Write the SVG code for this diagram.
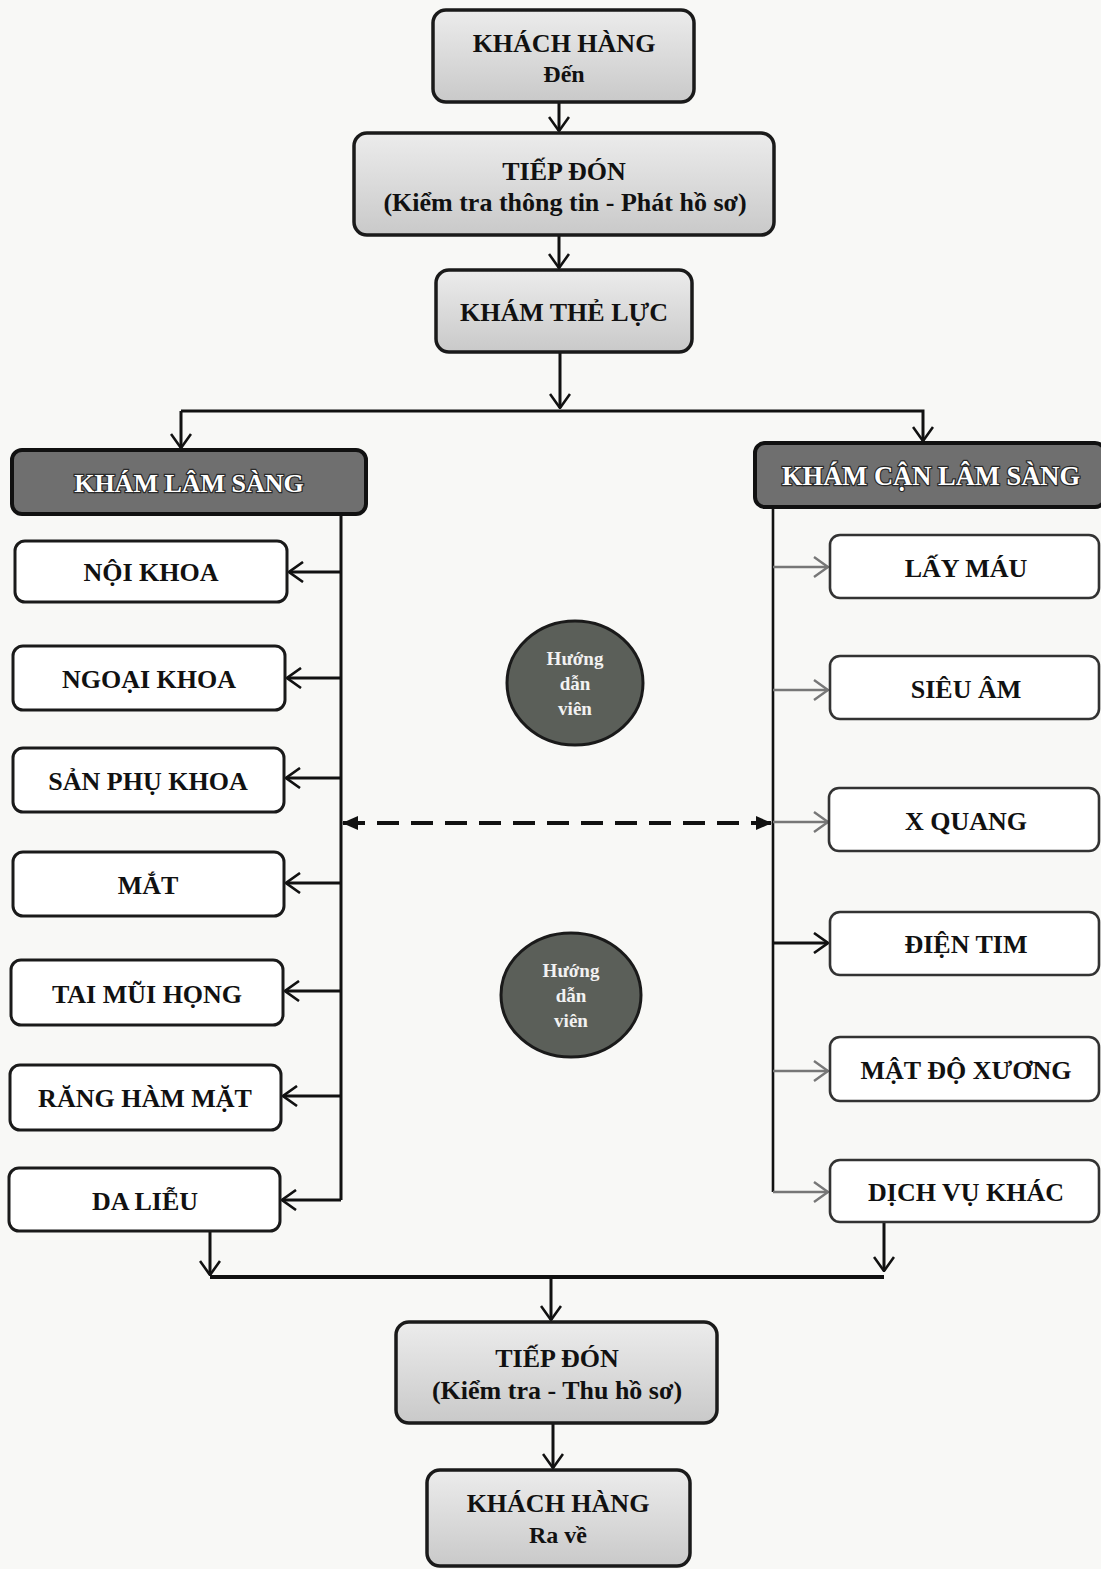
<svg xmlns="http://www.w3.org/2000/svg" width="1101" height="1569" viewBox="0 0 1101 1569">
<defs>
<linearGradient id="gGray" x1="0" y1="0" x2="0" y2="1">
<stop offset="0" stop-color="#ececec"/>
<stop offset="1" stop-color="#c9c9c9"/>
</linearGradient>
<marker id="arr" viewBox="0 0 16 22" refX="15" refY="11" markerWidth="16" markerHeight="22" markerUnits="userSpaceOnUse" orient="auto">
<path d="M1,1 L15,11 L1,21" fill="none" stroke="#111" stroke-width="2.6"/>
</marker>
<marker id="arrG" viewBox="0 0 16 22" refX="15" refY="11" markerWidth="16" markerHeight="22" markerUnits="userSpaceOnUse" orient="auto">
<path d="M1,1 L15,11 L1,21" fill="none" stroke="#777" stroke-width="2.4"/>
</marker>
<marker id="tri" viewBox="0 0 16 14" refX="15" refY="7" markerWidth="16" markerHeight="14" markerUnits="userSpaceOnUse" orient="auto-start-reverse">
<path d="M0,0 L16,7 L0,14 z" fill="#111"/>
</marker>
</defs>
<style>
.t{font-family:"Liberation Serif","Times New Roman",serif;font-weight:bold;fill:#111;text-anchor:middle}
.big{font-size:26px}
.hd{font-family:"Liberation Serif","Times New Roman",serif;font-weight:bold;fill:#fff;stroke:#2a2a2a;stroke-width:2.5;paint-order:stroke;text-anchor:middle}
.ct{font-family:"Liberation Serif","Times New Roman",serif;font-weight:bold;fill:#f2f2f2;font-size:19px;text-anchor:middle}
.gbox{fill:url(#gGray);stroke:#1a1a1a;stroke-width:3.5}
.dbox{fill:#6f6f6f;stroke:#111;stroke-width:4}
.wbox{fill:#fff;stroke:#1a1a1a;stroke-width:3}
.wbox2{fill:#fff;stroke:#333;stroke-width:2.6}
.circ{fill:#5b5f59;stroke:#1a1a1a;stroke-width:3}
.ln{fill:none;stroke:#111;stroke-width:3}
.lnG{fill:none;stroke:#777;stroke-width:2.6}
</style>
<rect x="0" y="0" width="1101" height="1569" fill="#f8f8f6"/>

<g id="connectors">
<path class="ln" d="M559,102 V131" marker-end="url(#arr)"/>
<path class="ln" d="M559,235 V268" marker-end="url(#arr)"/>
<path class="ln" d="M560,352 V408" marker-end="url(#arr)"/>
<path class="ln" d="M181,411 H923 V441" marker-end="url(#arr)"/>
<path class="ln" d="M181,411 V448" marker-end="url(#arr)"/>
<path class="ln" d="M341,514 V1200"/>
<path class="ln" d="M341,572 H289" marker-end="url(#arr)"/>
<path class="ln" d="M341,678 H287" marker-end="url(#arr)"/>
<path class="ln" d="M341,778 H286" marker-end="url(#arr)"/>
<path class="ln" d="M341,883 H286" marker-end="url(#arr)"/>
<path class="ln" d="M341,991 H285" marker-end="url(#arr)"/>
<path class="ln" d="M341,1096 H283" marker-end="url(#arr)"/>
<path class="ln" d="M341,1200 H282" marker-end="url(#arr)"/>
<path class="ln" d="M773,507 V1192" style="stroke-width:2.6"/>
<path class="lnG" d="M773,567 H828" marker-end="url(#arrG)"/>
<path class="lnG" d="M773,690 H828" marker-end="url(#arrG)"/>
<path class="lnG" d="M773,822 H828" marker-end="url(#arrG)"/>
<path class="ln" d="M773,943 H828" marker-end="url(#arr)"/>
<path class="lnG" d="M773,1071 H828" marker-end="url(#arrG)"/>
<path class="lnG" d="M773,1192 H828" marker-end="url(#arrG)"/>
<path d="M343,823 H771" fill="none" stroke="#111" stroke-width="4" stroke-dasharray="22,12" marker-start="url(#tri)" marker-end="url(#tri)"/>
<path class="ln" d="M210,1231 V1275" marker-end="url(#arr)"/>
<path class="ln" d="M884,1222 V1271" marker-end="url(#arr)"/>
<path class="ln" d="M210,1277 H884" style="stroke-width:4"/>
<path class="ln" d="M551,1277 V1320" marker-end="url(#arr)"/>
<path class="ln" d="M553,1423 V1468" marker-end="url(#arr)"/>
</g>

<g id="khach-hang-den">
<rect class="gbox" x="433" y="10" width="261" height="92" rx="13"/>
<text class="t big" x="564" y="52">KHÁCH HÀNG</text>
<text class="t" x="564" y="82" font-size="24">Đến</text>
</g>
<g id="tiep-don-1">
<rect class="gbox" x="354" y="133" width="420" height="102" rx="13"/>
<text class="t big" x="564" y="180">TIẾP ĐÓN</text>
<text class="t big" x="565" y="211">(Kiểm tra thông tin - Phát hồ sơ)</text>
</g>
<g id="kham-the-luc">
<rect class="gbox" x="436" y="270" width="256" height="82" rx="13"/>
<text class="t big" x="564" y="321">KHÁM THẺ LỰC</text>
</g>

<g id="kham-lam-sang">
<rect class="dbox" x="12" y="450" width="354" height="64" rx="10"/>
<text class="hd" x="189" y="492" font-size="26">KHÁM LÂM SÀNG</text>
</g>
<g id="kham-can-lam-sang">
<rect class="dbox" x="755" y="443" width="350" height="64" rx="10"/>
<text class="hd" x="931" y="485" font-size="26.5">KHÁM CẬN LÂM SÀNG</text>
</g>

<g id="noi-khoa"><rect class="wbox" x="15" y="541" width="272" height="61" rx="10"/><text class="t big" x="151" y="581">NỘI KHOA</text></g>
<g id="ngoai-khoa"><rect class="wbox" x="13" y="646" width="272" height="64" rx="10"/><text class="t big" x="149" y="688">NGOẠI KHOA</text></g>
<g id="san-phu-khoa"><rect class="wbox" x="13" y="748" width="271" height="64" rx="10"/><text class="t big" x="148" y="790">SẢN PHỤ KHOA</text></g>
<g id="mat"><rect class="wbox" x="13" y="852" width="271" height="64" rx="10"/><text class="t big" x="148" y="894">MẮT</text></g>
<g id="tai-mui-hong"><rect class="wbox" x="11" y="960" width="272" height="65" rx="10"/><text class="t big" x="147" y="1003">TAI MŨI HỌNG</text></g>
<g id="rang-ham-mat"><rect class="wbox" x="10" y="1065" width="271" height="65" rx="10"/><text class="t big" x="145" y="1107">RĂNG HÀM MẶT</text></g>
<g id="da-lieu"><rect class="wbox" x="9" y="1168" width="271" height="63" rx="10"/><text class="t big" x="145" y="1210">DA LIỄU</text></g>

<g id="lay-mau"><rect class="wbox2" x="830" y="535" width="269" height="63" rx="10"/><text class="t big" x="966" y="577">LẤY MÁU</text></g>
<g id="sieu-am"><rect class="wbox2" x="830" y="656" width="269" height="63" rx="10"/><text class="t big" x="966" y="698">SIÊU ÂM</text></g>
<g id="x-quang"><rect class="wbox2" x="829" y="788" width="270" height="63" rx="10"/><text class="t big" x="966" y="830">X QUANG</text></g>
<g id="dien-tim"><rect class="wbox2" x="830" y="912" width="269" height="63" rx="10"/><text class="t big" x="966" y="953">ĐIỆN TIM</text></g>
<g id="mat-do-xuong"><rect class="wbox2" x="830" y="1037" width="269" height="64" rx="10"/><text class="t big" x="966" y="1079">MẬT ĐỘ XƯƠNG</text></g>
<g id="dich-vu-khac"><rect class="wbox2" x="830" y="1160" width="269" height="62" rx="10"/><text class="t big" x="966" y="1201">DỊCH VỤ KHÁC</text></g>

<g id="huong-dan-vien-1">
<ellipse class="circ" cx="575" cy="683" rx="68" ry="62"/>
<text class="ct" x="575" y="665">Hướng</text>
<text class="ct" x="575" y="690">dẫn</text>
<text class="ct" x="575" y="715">viên</text>
</g>
<g id="huong-dan-vien-2">
<ellipse class="circ" cx="571" cy="995" rx="70" ry="62"/>
<text class="ct" x="571" y="977">Hướng</text>
<text class="ct" x="571" y="1002">dẫn</text>
<text class="ct" x="571" y="1027">viên</text>
</g>

<g id="tiep-don-2">
<rect class="gbox" x="396" y="1322" width="321" height="101" rx="13"/>
<text class="t big" x="557" y="1367">TIẾP ĐÓN</text>
<text class="t big" x="557" y="1399">(Kiểm tra - Thu hồ sơ)</text>
</g>
<g id="khach-hang-ra-ve">
<rect class="gbox" x="427" y="1470" width="263" height="96" rx="13"/>
<text class="t big" x="558" y="1512">KHÁCH HÀNG</text>
<text class="t" x="558" y="1543" font-size="24">Ra về</text>
</g>
</svg>
